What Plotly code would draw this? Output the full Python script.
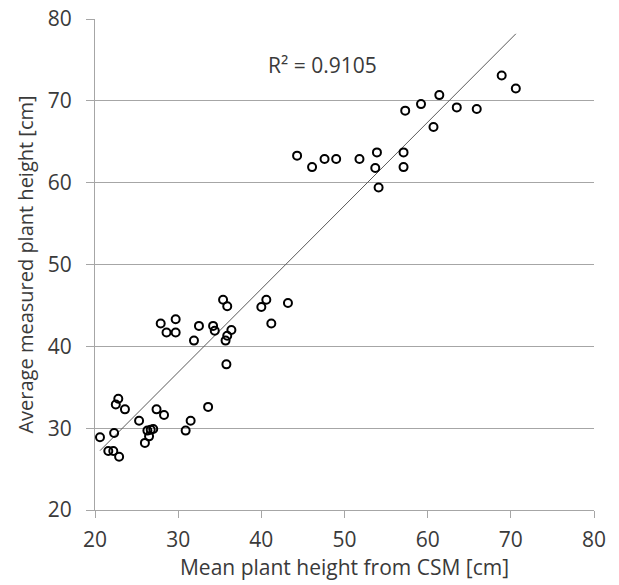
import numpy as np
import plotly.graph_objects as go

# Mean plant height from CSM [cm]
csm_height = [20.6, 21.6, 22.2, 22.9, 22.3, 22.5, 22.8, 23.6, 25.3, 26.0,
              26.3, 26.5, 26.7, 27.0, 27.4, 28.3, 30.9, 31.5, 33.6,
              27.9, 28.6, 29.7, 29.7, 31.9, 32.5, 34.2, 34.4, 35.4, 35.9,
              35.7, 35.9, 36.4, 35.8, 40.0, 40.6, 41.2, 43.2,
              44.3, 46.1, 47.6, 49.0, 51.8, 53.9, 53.7, 54.1, 57.1, 57.1,
              57.3, 59.2, 60.7, 61.4, 63.5, 65.9, 68.9, 70.6]
# Average measured plant height [cm]
measured_height = [28.9, 27.2, 27.2, 26.5, 29.4, 32.9, 33.6, 32.3, 30.9, 28.2,
                   29.7, 29.0, 29.8, 29.9, 32.3, 31.6, 29.7, 30.9, 32.6,
                   42.8, 41.7, 43.3, 41.7, 40.7, 42.5, 42.5, 41.9, 45.7, 44.9,
                   40.7, 41.3, 42.0, 37.8, 44.8, 45.7, 42.8, 45.3,
                   63.3, 61.9, 62.9, 62.9, 62.9, 63.7, 61.8, 59.4, 63.7, 61.9,
                   68.8, 69.6, 66.8, 70.7, 69.2, 69.0, 73.1, 71.5]

r2_label = "R\u00b2 = 0.9105"
x_ticks = [20, 30, 40, 50, 60, 70, 80]
y_ticks = [20, 30, 40, 50, 60, 70, 80]

x = np.array(csm_height)
y = np.array(measured_height)
slope, intercept = np.polyfit(x, y, 1)
trend_x = np.array([x.min(), x.max()])
trend_y = slope * trend_x + intercept

font_family = "Open Sans, sans-serif"
text_color = "#3a3a3a"
grid_color = "#a6a6a6"

fig = go.Figure()
fig.add_trace(go.Scatter(
    x=trend_x, y=trend_y, mode="lines",
    line=dict(color="#5a5a5a", width=1),
    hoverinfo="skip", showlegend=False,
))
fig.add_trace(go.Scatter(
    x=csm_height, y=measured_height, mode="markers",
    marker=dict(symbol="circle-open", size=8, color="black",
                line=dict(color="black", width=2)),
    showlegend=False,
))
fig.add_annotation(
    x=47.3, y=74.4, xref="x", yref="y", text=r2_label, showarrow=False,
    font=dict(family=font_family, size=21, color=text_color),
)
fig.update_layout(
    width=619, height=585,
    margin=dict(l=95, r=25, t=19, b=75, autoexpand=False),
    paper_bgcolor="white", plot_bgcolor="white",
    font=dict(family=font_family, size=21, color=text_color),
    xaxis=dict(
        range=[20, 80], tickvals=x_ticks, showgrid=False, zeroline=False,
        showline=True, linecolor=grid_color, linewidth=1,
        ticks="outside", ticklen=7, tickcolor=grid_color,
        ticklabelstandoff=4, automargin=False,
        title=dict(text="Mean plant height from CSM [cm]", standoff=4,
                   font=dict(size=21)),
        tickfont=dict(size=21),
    ),
    yaxis=dict(
        range=[20, 80], tickvals=y_ticks, showgrid=True, gridcolor=grid_color,
        gridwidth=1, zeroline=False,
        showline=True, linecolor=grid_color, linewidth=1,
        ticks="outside", ticklen=8, tickcolor=grid_color,
        ticklabelstandoff=10, automargin=False,
        title=dict(text="Average measured plant height [cm]", standoff=8,
                   font=dict(size=20)),
        tickfont=dict(size=21),
    ),
)
fig.write_html("out.html")
